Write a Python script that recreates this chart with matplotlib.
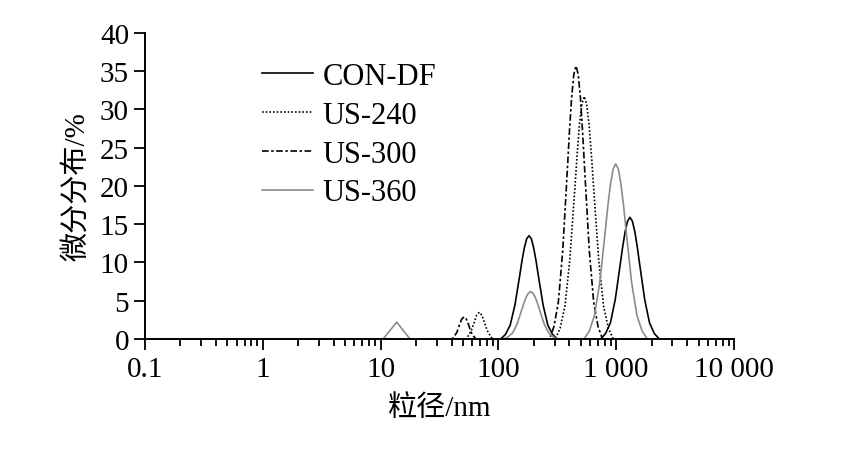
import matplotlib
matplotlib.use("Agg")
import matplotlib.pyplot as plt
from matplotlib.ticker import LogLocator, NullFormatter, FixedLocator, FixedFormatter

plt.rcParams['font.family'] = ['Liberation Serif', 'Noto Sans CJK SC']

# particle size (nm) and differential distribution (%)
con_x = [0.4, 104.7, 114.8, 125.9, 138.0, 151.4, 158.5, 166.0, 173.8, 182.0, 190.5, 199.5, 208.9, 218.8,
         239.9, 263.0, 288.4, 316.2,
         738.0, 811.8, 893.0, 983.0, 1081, 1134, 1190, 1249, 1309, 1373, 1441, 1511, 1585,
         1744, 1919, 2111, 2323, 10000]
con_y = [0, 0, 0.6, 1.8, 4.4, 8.2, 10.2, 11.9, 13.1, 13.5, 13.1, 11.9, 10.2, 8.2,
         4.4, 1.8, 0.6, 0,
         0, 0.7, 2.1, 5.2, 9.7, 12.0, 14.0, 15.4, 15.9, 15.4, 14.0, 12.0, 9.7,
         5.2, 2.1, 0.7, 0, 0]

us240_x = [0.4, 53.2, 56.0, 58.9, 62.1, 65.4, 68.9, 72.5, 76.4, 80.4, 84.7, 89.2,
           304.1, 334.2, 367.3, 403.6, 443.6, 465.0, 487.5, 511.1, 535.8, 561.6, 588.8, 617.3, 647.1,
           711.2, 781.6, 859.0, 944.1, 10000]
us240_y = [0, 0, 0.5, 1.1, 2.1, 3.1, 3.5, 3.1, 2.1, 1.1, 0.5, 0,
           0, 1.4, 4.3, 10.3, 19.2, 23.9, 28.0, 30.7, 31.7, 30.7, 28.0, 23.9, 19.2,
           10.3, 4.3, 1.4, 0, 0]

us300_x = [0.4, 40.6, 42.5, 44.5, 46.6, 48.8, 51.1, 53.5, 56.0, 58.6, 61.4, 64.3,
           271.6, 296.1, 322.8, 352.0, 383.7, 400.6, 418.3, 436.9, 456.0, 476.2, 497.2, 519.0, 542.0,
           590.9, 644.2, 702.3, 765.6, 10000]
us300_y = [0, 0, 0.4, 0.9, 1.8, 2.6, 2.9, 2.6, 1.8, 0.9, 0.4, 0,
           0, 1.6, 4.8, 11.6, 21.7, 27.0, 31.5, 34.6, 35.7, 34.6, 31.5, 27.0, 21.7,
           11.6, 4.8, 1.6, 0, 0]

us360_x = [0.4, 10.5, 13.7, 17.8,
           111.2, 121.3, 132.4, 144.5, 157.8, 164.8, 172.2, 179.9, 187.9, 196.3, 205.1, 214.3, 223.9,
           244.3, 266.7, 291.1, 317.7,
           532.1, 590.2, 654.6, 726.1, 805.4, 848.3, 893.3, 941.5, 990.8, 1043.5, 1099, 1157.6, 1219,
           1352, 1500, 1663, 1845, 10000]
us360_y = [0, 0, 2.2, 0,
           0, 0.3, 0.8, 2.0, 3.8, 4.7, 5.5, 6.0, 6.2, 6.0, 5.5, 4.7, 3.8,
           2.0, 0.8, 0.3, 0,
           0, 1.0, 3.1, 7.4, 13.9, 17.3, 20.2, 22.2, 22.9, 22.2, 20.2, 17.3, 13.9,
           7.4, 3.1, 1.0, 0, 0]

xticks = [0.1, 1, 10, 100, 1000, 10000]
xtick_labels = ['0.1', '1', '10', '100', '1 000', '10 000']
yticks = [0, 5, 10, 15, 20, 25, 30, 35, 40]

fig = plt.figure(figsize=(8.63, 4.52), dpi=100)
ax = fig.add_axes([0.168, 0.2478, 0.6825, 0.677])

ax.plot(con_x, con_y, color='black', lw=1.2, label='CON-DF')
ax.plot(us240_x, us240_y, color='black', lw=1.2, dashes=(1, 1.2), label='US-240')
ax.plot(us300_x, us300_y, color='black', lw=1.2, dashes=(4, 1.5, 1.5, 1.5), label='US-300')
ax.plot(us360_x, us360_y, color='#8c8c8c', lw=1.2, label='US-360')

ax.set_xscale('log')
ax.set_xlim(0.1, 10000)
ax.set_ylim(0, 40)
ax.xaxis.set_major_locator(FixedLocator(xticks))
ax.xaxis.set_major_formatter(FixedFormatter(xtick_labels))
ax.xaxis.set_minor_locator(LogLocator(base=10, subs=range(2, 10)))
ax.xaxis.set_minor_formatter(NullFormatter())
ax.set_yticks(yticks)

for s in ['top', 'right']:
    ax.spines[s].set_visible(False)
for s in ['left', 'bottom']:
    ax.spines[s].set_linewidth(1.4)

ax.tick_params(which='major', direction='out', length=8, width=1.3, labelsize=21)
ax.tick_params(which='minor', direction='out', length=5, width=1.3)
ax.tick_params(axis='x', which='major', pad=4)

ax.set_xlabel('粒径/nm', fontsize=21, labelpad=9)
ax.set_ylabel('微分分布/%', fontsize=21, labelpad=7)

ax.legend(loc='upper left', bbox_to_anchor=(0.199, 0.905), frameon=False, fontsize=22,
          borderpad=0, borderaxespad=0, handlelength=1.65, handletextpad=0.33, labelspacing=0.32)

fig.savefig('out.png', dpi=100)
